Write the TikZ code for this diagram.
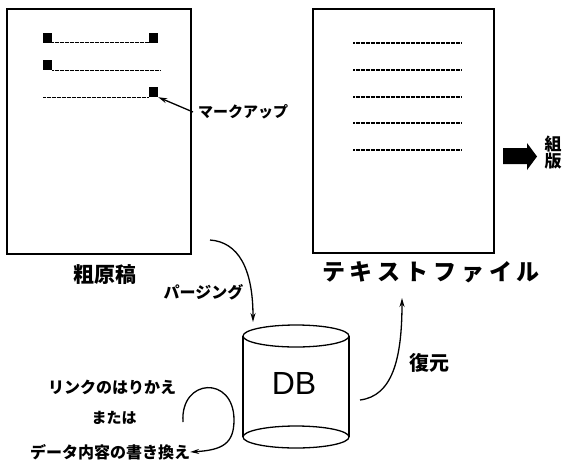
\documentclass[tikz,border=0pt]{standalone}
\usepackage{fontspec}
\newfontfamily\jp{Noto Sans CJK JP}
\newfontfamily\dbfont{Liberation Sans}
\usetikzlibrary{arrows.meta}
\tikzset{
  doc/.style={draw, line width=1.3pt, inner sep=0pt},
  mk/.style={fill=black, inner sep=0pt, minimum width=9pt, minimum height=10pt},
  txtline/.style={line width=1.1pt, dash pattern=on 2pt off 0.5pt},
  lbl/.style={inner sep=0pt, font=\jp\bfseries\fontsize{15}{16}\selectfont},
  big/.style={inner sep=0pt, font=\jp\bfseries\fontsize{20}{22}\selectfont},
  conn/.style={line width=1.3pt, -{Stealth[length=9pt,width=5pt]}},
  cyl/.style={line width=1.3pt}
}
\begin{document}
\begin{tikzpicture}[x=1pt,y=-1pt]
\useasboundingbox (0,0) rectangle (569,461);
% documents
\node[doc, minimum width=184pt, minimum height=245pt] (src) at (99,131.5) {};
\node[doc, minimum width=181pt, minimum height=244pt] (txt) at (403.5,131) {};
% markers in rough draft
\node[mk] (m1a) at (47.5,37.5) {};
\node[mk] (m1b) at (153.5,37.5) {};
\node[mk] (m2a) at (47.5,65) {};
\node[mk] (m3b) at (153.5,92) {};
\draw[txtline] (m1a.south east) -- (m1b.south west);
\draw[txtline] (m2a.south east) -- ++(109,0) coordinate (l2e);
\draw[txtline] (m3b.south west) -- ++(-106,0) coordinate (l3s);
% text lines in text file
\foreach \yy in {43,70,97,123,150}{
  \draw[txtline] (353,\yy) -- (462,\yy);
}
% markup label
\node[lbl, anchor=west] (markup) at (198,112) {マークアップ};
\coordinate (mkfrom) at (193,112);
\draw[conn] (mkfrom) -- (m3b.south east);
% labels under docs
\node[big, font=\jp\bfseries\fontsize{21}{22}\selectfont] (srcl) at (105,275) {粗原稿};
\node[inner sep=0pt, font=\jp\bfseries\fontsize{23}{24}\selectfont] (txtl) at (431,272)
  {テ\hspace{4.8pt}キ\hspace{4.8pt}ス\hspace{4.8pt}ト\hspace{4.8pt}フ\hspace{4.8pt}ァ\hspace{4.8pt}イ\hspace{4.8pt}ル};
% typesetting arrow and label
\node[inner sep=0pt] (thick) at (520,156) {};
\fill (503,148) -- (527,148) -- (527,143) -- (537,156.5) -- (527,170) -- (527,164) -- (503,164) -- cycle;
\node[inner sep=0pt, font=\jp\bfseries\fontsize{17}{18}\selectfont, align=center] (kumi) at (553,153) {組\\[-1pt]版};
% DB cylinder
\node[inner sep=0pt, minimum width=106pt, minimum height=123pt] (db) at (296,386.5) {};
\draw[cyl] (296,336) ellipse [x radius=53, y radius=11];
\draw[cyl] (243,336) -- (243,437);
\draw[cyl] (349,336) -- (349,437);
\draw[cyl] (296,437) ellipse [x radius=53, y radius=11];
\node[inner sep=0pt, font=\dbfont\fontsize{32}{34}\selectfont] (dbl) at (294,383) {DB};
% parsing arrow
\coordinate (pstart) at (210,240);
\coordinate (pend) at (253,322);
\draw[conn] (pstart) .. controls (238,242) and (253,268) .. (pend);
\node[lbl, font=\jp\bfseries\fontsize{16}{17}\selectfont] (parse) at (203.5,292) {パージング};
% restore arrow
\coordinate (rstart) at (360,400);
\coordinate (rend) at (402,298);
\draw[conn] (rstart) .. controls (392,396) and (402,360) .. (rend);
\node[big] (restore) at (429,363) {復元};
% loop
\node[lbl, font=\jp\bfseries\fontsize{16}{17}\selectfont] (link) at (112,387) {リンクのはりかえ};
\node[lbl] (or) at (114,418) {または};
\node[lbl, font=\jp\bfseries\fontsize{16}{17}\selectfont] (data) at (110,452) {データ内容の書き換え};
\coordinate (lstart) at (183,422);
\draw[conn] (lstart) .. controls (180,378) and (234,375) .. (234,420)
  .. controls (234,444) and (222,450) .. (data.east);
\end{tikzpicture}
\end{document}
